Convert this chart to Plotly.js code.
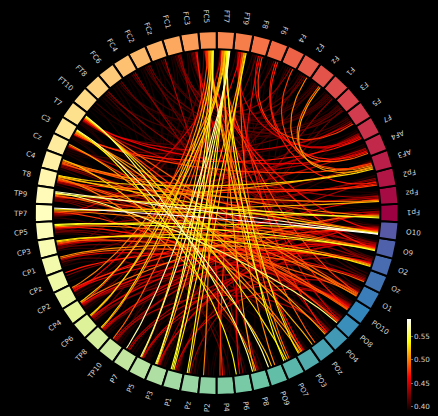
<!DOCTYPE html>
<html><head><meta charset="utf-8">
<script src="https://cdn.plot.ly/plotly-3.0.1.min.js"></script>
<style>html,body{margin:0;padding:0;background:#000;overflow:hidden}#chart{width:438px;height:416px}</style>
</head><body><div id="chart"></div>
<script>
// ---------------- data ----------------
const nodeNames = ['Fp1','Fpz','Fp2','AF3','AF4','F7','F5','F3','F1','Fz','F2','F4','F6','F8','FT9','FT7',
  'FC5','FC3','FC1','FCz','FC2','FC4','FC6','FT8','FT10','T7','C3','Cz','C4','T8','TP9','TP7',
  'CP5','CP3','CP1','CPz','CP2','CP4','CP6','TP8','TP10','P7','P5','P3','P1','Pz','P2','P4',
  'P6','P8','PO9','PO7','PO3','POz','PO4','PO8','PO10','O1','Oz','O2','O9','O10'];

const conFrom = [
 'TP7','TP9','FT7','C3','FT7','T7','TP9','FT7','FC5','FT7',
 'TP9','CP5','FT7','FC5','FT7','C3','CP5','FT9','FT7','TP7',
 'T7','CP3','FT7','FC5','AF3','FT9','FC5','FC5','T8','CP3',
 'C4','FT7','TP7','T7','FT9','Cz','C3','FC5','FT7','AF3',
 'TP9','CP1','FT7','FT7','FT7','FC5','FC5','T8','C4','CP5',
 'TP7','C3','C3','T8','AF3','CP4','FC5','FT7','FT9','C4',
 'CP1','CP3','T7','TP9','C4','T8','AF4','TP9','FT7','FC5',
 'FT9','C4','CP3','T7','Cz','T8','TP7','AF3','C3','F5',
 'CP2','CPz','FC5','FC5','FT9','FC3','T8','CP5','AF4','C3',
 'Fp2','FC5','CP4','CP2','CP2','FT9','FC3','F8','F7','T7',
 'CP6','TP8','FT9','T7','F7','FT7','CP1','CP3','P3','P5',
 'P1','TP8','CP6','TP10','AF4','Fpz','FCz','P7','P3','Cz',
 'T7','C4','CP4','TP9','T8','CP5','TP10','P7','P5','FC4',
 'FC1','FC1','FC1','F1','F7','Fp2','CP3','C4','T8','CPz',
 'TP8','P1','Pz','CP4','CP6','TP10','FT8','FC3','FC2','FC3',
 'FC2','FC4','FC6','FC3','F3','F2','F8','F3','Fpz','AF3',
 'F5','O9','Oz','O1','PO10','PO8','P8','PO4','P4','PO3',
 'FC1','FCz','FC4','FT8','FT8','FT10','FC2','Fz','F4','F1',
 'F5','FC3','FC1','FCz','FC2','F2','F6','FC6','Fp1','Fpz',
 'Fp2','AF4','F7','O10','O9','O2','Oz','O1','PO10','PO8',
 'PO4','FT10','FC4','FC6','FT8','FC2','FCz','FC1','FC3','T7',
 'C3','Cz','Fp1','Fpz','Fp2','AF3','AF4','F7','F5','F3',
 'F1','Fz','F2','F4','F6','F8','FT9','FT7','FC5','FC3',
 'FC1','FCz','FC2','FC4','FC6','FT8','FT10','T7','C3','Cz',
 'C4','T8','TP9','TP7','CP5','CP3','CP1','CPz','CP2','CP4',
 'CP6','TP8','TP10','P7','P5','P3','P1','Pz','P2','P4',
 'P6','P8','PO9','PO7','PO3','POz','PO4','PO8','O1','Oz',
 'O2','O9','O10','PO10'];
const conTo = [
 'O10','O10','P7','PO9','P5','P8','PO8','P3','P3','P1',
 'Fp1','O9','PO7','P1','Pz','P6','O10','P1','PO3','Fp1',
 'PO7','O2','CP6','TP8','T8','Pz','P5','PO7','O10','O9',
 'PO9','CP4','Fpz','POz','P3','PO3','PO4','CP6','P8','Fz',
 'AF3','O2','CP2','PO9','TP8','PO3','P2','Fpz','Fp1','O2',
 'O9','PO3','O1','P8','F2','Fp1','POz','TP10','PO7','O10',
 'Oz','O1','O1','PO10','PO10','O1','Fz','O9','O1','CP4',
 'P4','Fp2','O10','PO8','PO8','PO10','PO4','F4','AF3','F8',
 'O10','O2','O9','PO10','PO4','P4','Fp2','PO10','F6','F7',
 'F6','O10','O9','Fpz','O2','CP2','PO3','P6','F8','AF4',
 'O10','O9','PO8','F5','FT9','TP7','PO10','Oz','O10','O9',
 'PO10','Fp1','Fp2','O10','TP7','TP9','P8','O2','Fp1','O9',
 'Fpz','AF4','Oz','F7','O9','Fp1','PO4','PO10','O1','PO4',
 'P6','F4','O2','P3','TP7','CP5','Fp2','O2','PO8','O10',
 'O2','O9','O10','PO10','O1','Fp1','O9','F2','F3','F6',
 'PO8','O1','O2','O9','P1','CP4','CP6','C3','CP3','CP1',
 'TP7','CP6','TP9','C4','CP3','CP5','CP1','TP9','TP9','CP5',
 'F1','Fz','F1','F3','PO10','O10','Oz','CP2','TP10','T7',
 'Cz','F1','Fz','F3','F5','FC6','P5','Fz','T7','C3',
 'Cz','Cz','T8','CP1','CP2','CP4','TP8','TP10','P5','P5',
 'P3','P2','Pz','P1','P3','P5','P7','TP10','TP8','CP4',
 'P5','P3','CP2','CP4','TP8','CP6','TP10','P7','P3','Pz',
 'P4','P8','PO7','PO3','POz','PO4','O1','Oz','O2','PO10',
 'O10','O9','Fp1','Fpz','AF3','AF4','F7','F3','F1','F2',
 'F4','F6','F8','FT9','FT7','FC5','FC3','FC1','FCz','FC2',
 'FC4','FC6','FT8','FT10','T7','C3','Cz','C4','T8','TP7',
 'CP5','CP3','CP1','CPz','CP2','CP4','CP6','TP8','P7','P5',
 'P3','Pz','P2','P2'];
const conVal = [
 0.586,0.575,0.570,0.568,0.565,0.560,0.560,0.555,0.550,0.548,
 0.545,0.545,0.540,0.540,0.535,0.535,0.535,0.530,0.530,0.530,
 0.530,0.530,0.525,0.525,0.525,0.520,0.520,0.520,0.520,0.520,
 0.520,0.520,0.515,0.515,0.510,0.510,0.510,0.510,0.510,0.510,
 0.505,0.505,0.500,0.500,0.500,0.500,0.500,0.500,0.500,0.500,
 0.500,0.500,0.500,0.500,0.500,0.495,0.490,0.490,0.490,0.490,
 0.490,0.490,0.490,0.490,0.490,0.490,0.490,0.485,0.480,0.480,
 0.480,0.480,0.480,0.480,0.480,0.480,0.480,0.480,0.480,0.480,
 0.475,0.470,0.470,0.470,0.470,0.470,0.470,0.470,0.470,0.470,
 0.470,0.465,0.460,0.460,0.460,0.460,0.460,0.460,0.460,0.460,
 0.455,0.450,0.450,0.450,0.450,0.450,0.450,0.450,0.450,0.450,
 0.450,0.450,0.440,0.440,0.440,0.440,0.440,0.440,0.440,0.440,
 0.440,0.440,0.440,0.440,0.440,0.440,0.440,0.440,0.440,0.430,
 0.430,0.430,0.430,0.430,0.430,0.430,0.430,0.430,0.430,0.430,
 0.430,0.430,0.430,0.430,0.430,0.430,0.430,0.420,0.420,0.420,
 0.420,0.420,0.420,0.420,0.420,0.420,0.420,0.420,0.420,0.420,
 0.420,0.420,0.420,0.420,0.420,0.420,0.420,0.420,0.420,0.420,
 0.410,0.410,0.410,0.410,0.410,0.410,0.410,0.410,0.410,0.410,
 0.410,0.410,0.410,0.410,0.410,0.410,0.400,0.400,0.398,0.400,
 0.396,0.400,0.398,0.400,0.395,0.400,0.397,0.400,0.394,0.400,
 0.398,0.400,0.396,0.400,0.395,0.400,0.397,0.400,0.393,0.400,
 0.398,0.395,0.405,0.403,0.401,0.404,0.399,0.402,0.400,0.406,
 0.401,0.397,0.404,0.400,0.398,0.403,0.407,0.405,0.409,0.402,
 0.399,0.401,0.396,0.398,0.395,0.400,0.397,0.399,0.401,0.398,
 0.396,0.400,0.403,0.405,0.412,0.415,0.402,0.399,0.400,0.397,
 0.395,0.398,0.396,0.394,0.400,0.401,0.399,0.402,0.404,0.406,
 0.403,0.405,0.401,0.398,0.400,0.397,0.395,0.399,0.398,0.396,
 0.401,0.399,0.397,0.400];

const vmin = 0.393, vmax = 0.586;
const cbTickVals = [0.40, 0.45, 0.50, 0.55];
const cbTickText = ['0.40', '0.45', '0.50', '0.55'];

// ---------------- geometry / styles ----------------
const W = 438, H = 416, CX = 216.7, CY = 213, S = 18.2;   // px centre, px per unit
const xr = [-CX / S, (W - CX) / S], yr = [-(H - CY) / S, CY / S];
const n = nodeNames.length, step = 360 / n;
const idx = {}; nodeNames.forEach((nm, i) => idx[nm] = i);
const ang = i => i * step;
const R_IN = 9, R_OUT = 10, R_CTRL = 5, R_LABEL = 10.45;
const FONT = 'DejaVu Sans', FS = 7.2;
const d2r = Math.PI / 180;

const spectralStops = [[158,1,66],[213,62,79],[244,109,67],[253,174,97],[254,224,139],[255,255,191],
  [230,245,152],[171,221,164],[102,194,165],[50,136,189],[94,79,162]];
function spectral(t) {
  const p = Math.max(0, Math.min(1, t)) * 10, i = Math.min(9, Math.floor(p)), f = p - i;
  const a = spectralStops[i], b = spectralStops[i + 1];
  return 'rgb(' + a.map((c, k) => Math.round(c + (b[k] - c) * f)).join(',') + ')';
}
const hotScale = [[0,'rgb(11,0,0)'],[0.365079,'rgb(255,0,0)'],[0.746032,'rgb(255,255,0)'],[1,'rgb(255,255,255)']];
function hot(v) {
  const t = Math.max(0, Math.min(1, (v - vmin) / (vmax - vmin)));
  const r = t < 0.365079 ? 0.0416 + (1 - 0.0416) * t / 0.365079 : 1;
  const g = t < 0.365079 ? 0 : (t < 0.746032 ? (t - 0.365079) / (0.746032 - 0.365079) : 1);
  const b = t < 0.746032 ? 0 : (t - 0.746032) / (1 - 0.746032);
  return 'rgb(' + [r, g, b].map(c => Math.round(c * 255)).join(',') + ')';
}

const traces = [];
// connection lines (weakest first)
const count = new Array(n).fill(0), seen = new Array(n).fill(0);
conFrom.forEach((f, k) => { count[idx[f]]++; count[idx[conTo[k]]]++; });
const noiseMax = 0.3 * step;
function spread(node) {
  const k = seen[node]++, c = count[node];
  return c > 1 ? (k / (c - 1) * 2 - 1) * noiseMax : 0;
}
const offA = [], offB = [];
conFrom.forEach((f, k) => { offA[k] = spread(idx[f]); offB[k] = spread(idx[conTo[k]]); });
const order = conVal.map((v, i) => i).sort((a, b) => conVal[a] - conVal[b]);
order.forEach(k => {
  const t0 = (ang(idx[conFrom[k]]) + offA[k]) * d2r, t1 = (ang(idx[conTo[k]]) + offB[k]) * d2r;
  const P = [[R_IN * Math.cos(t0), R_IN * Math.sin(t0)], [R_CTRL * Math.cos(t0), R_CTRL * Math.sin(t0)],
             [R_CTRL * Math.cos(t1), R_CTRL * Math.sin(t1)], [R_IN * Math.cos(t1), R_IN * Math.sin(t1)]];
  const xs = [], ys = [];
  for (let s = 0; s <= 40; s++) {
    const u = s / 40, a = (1 - u) ** 3, b = 3 * u * (1 - u) ** 2, c = 3 * u * u * (1 - u), d = u ** 3;
    xs.push(a * P[0][0] + b * P[1][0] + c * P[2][0] + d * P[3][0]);
    ys.push(a * P[0][1] + b * P[1][1] + c * P[2][1] + d * P[3][1]);
  }
  traces.push({type: 'scatter', mode: 'lines', x: xs, y: ys, hoverinfo: 'skip',
    line: {color: hot(conVal[k]), width: 1.15}});
});

// node ring
nodeNames.forEach((nm, i) => {
  const a0 = ang(i) - step / 2, xs = [], ys = [];
  for (let s = 0; s <= 8; s++) { const t = (a0 + step * s / 8) * d2r; xs.push(R_OUT * Math.cos(t)); ys.push(R_OUT * Math.sin(t)); }
  for (let s = 8; s >= 0; s--) { const t = (a0 + step * s / 8) * d2r; xs.push(R_IN * Math.cos(t)); ys.push(R_IN * Math.sin(t)); }
  xs.push(xs[0]); ys.push(ys[0]);
  traces.push({type: 'scatter', mode: 'lines', x: xs, y: ys, fill: 'toself', fillcolor: spectral(i / n),
    line: {color: 'black', width: 2}, hoverinfo: 'skip'});
});

// colour bar carrier
traces.push({type: 'scatter', mode: 'markers', x: [100, 100], y: [100, 100], hoverinfo: 'skip',
  marker: {color: [vmin, vmax], cmin: vmin, cmax: vmax, colorscale: hotScale, showscale: true, opacity: 0,
    colorbar: {x: 407.3 / W, xanchor: 'left', xpad: 0, y: 1 - 364.7 / H, yanchor: 'middle', ypad: 0,
      len: 91, lenmode: 'pixels', thickness: 4, thicknessmode: 'pixels', outlinewidth: 0, borderwidth: 0,
      tickvals: cbTickVals, ticktext: cbTickText, ticks: 'outside', ticklen: 2, tickwidth: 0.6, tickcolor: '#bbbbbb',
      tickfont: {family: FONT, size: FS, color: '#d0d0d0'}}}});

// labels
const ctx = document.createElement('canvas').getContext('2d');
ctx.font = FS + 'px "' + FONT + '"';
const annotations = nodeNames.map((nm, i) => {
  const th = ang(i), w = ctx.measureText(nm).width / S;
  const rc = R_LABEL + w / 2;
  let ta = th >= 270 ? -th : -(th + 180);
  while (ta <= -180) ta += 360; while (ta > 180) ta -= 360;
  return {x: rc * Math.cos(th * d2r), y: rc * Math.sin(th * d2r), xref: 'x', yref: 'y', text: nm,
    showarrow: false, xanchor: 'center', yanchor: 'middle', textangle: ta, borderpad: 0,
    font: {family: FONT, size: FS, color: '#d4d4d4'}};
});

const layout = {width: W, height: H, margin: {l: 0, r: 0, t: 0, b: 0}, paper_bgcolor: 'black', plot_bgcolor: 'black',
  showlegend: false, annotations: annotations,
  xaxis: {range: xr, visible: false, fixedrange: true},
  yaxis: {range: yr, visible: false, fixedrange: true}};
Plotly.newPlot('chart', traces, layout, {displayModeBar: false, staticPlot: true});
</script></body></html>
